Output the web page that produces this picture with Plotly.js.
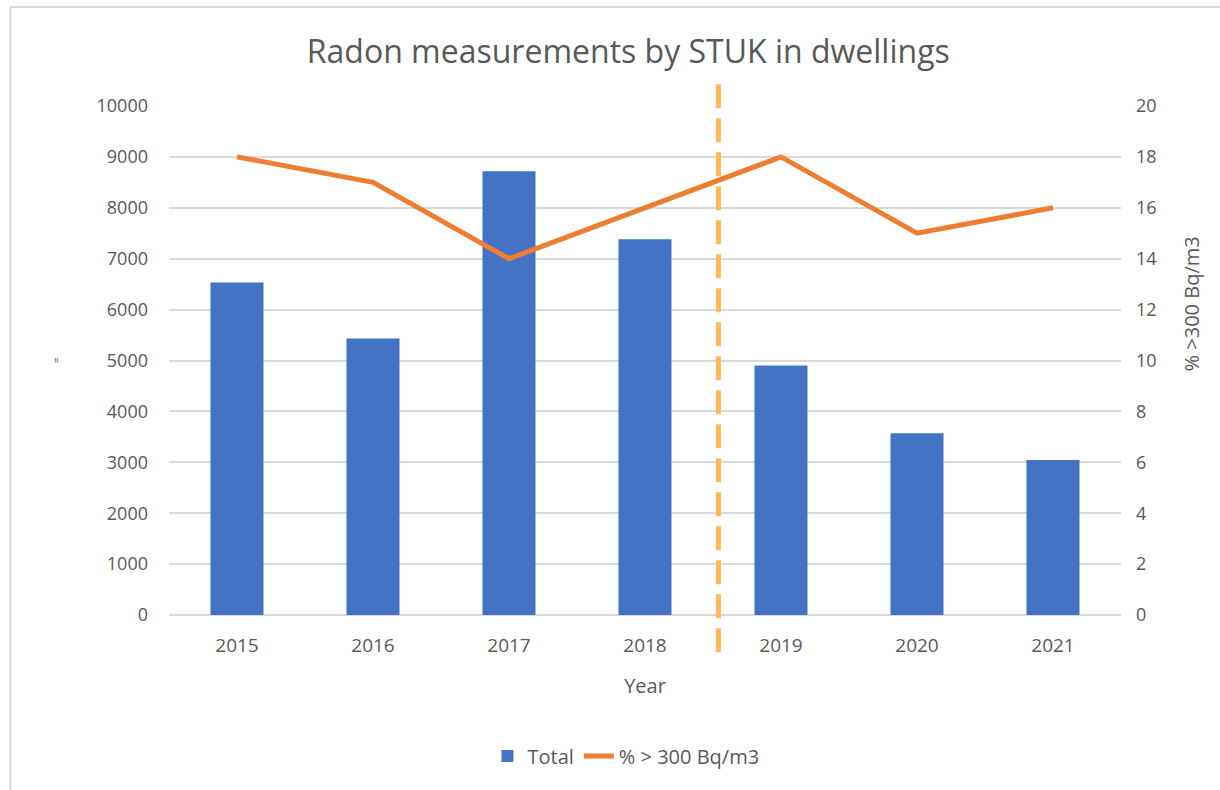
<!DOCTYPE html>
<html>
<head>
<meta charset="utf-8">
<script src="https://cdn.plot.ly/plotly-3.0.1.min.js"></script>
<style>html,body{margin:0;padding:0;background:#fff;}#chart{width:1220px;height:790px;}</style>
</head>
<body>
<div id="chart"></div>
<script>
const years = ['2015', '2016', '2017', '2018', '2019', '2020', '2021'];
const totals = [6530, 5430, 8720, 7380, 4900, 3570, 3045];
const percentOver300 = [18, 17, 14, 16, 18, 15, 16];
const leftTicks = [0, 1000, 2000, 3000, 4000, 5000, 6000, 7000, 8000, 9000, 10000];
const rightTicks = [0, 2, 4, 6, 8, 10, 12, 14, 16, 18, 20];
const dividerPosition = 3.54;

const fontFam = '"Open Sans", sans-serif';
const grey = '#595959';

const traces = [
  {
    type: 'bar', name: 'Total', x: years, y: totals,
    marker: {color: '#4472C4'}, yaxis: 'y'
  },
  {
    type: 'scatter', mode: 'lines', name: '% > 300 Bq/m3', x: years, y: percentOver300,
    line: {color: '#ED7D31', width: 5}, yaxis: 'y2'
  }
];

const layout = {
  width: 1220, height: 790,
  margin: {l: 169, r: 99, t: 106, b: 175},
  paper_bgcolor: '#fff', plot_bgcolor: '#fff',
  font: {family: fontFam, color: grey, size: 18},
  title: {text: 'Radon measurements by STUK in dwellings', x: 0.515, xanchor: 'center', y: 0.935, yanchor: 'middle',
          font: {size: 32, color: grey, family: fontFam}},
  bargap: 0.61,
  showlegend: true,
  legend: {orientation: 'h', x: 0.48, xanchor: 'center', y: -0.277, yanchor: 'middle',
           font: {size: 20, color: grey}, traceorder: 'normal'},
  xaxis: {
    type: 'category', tickvals: years, ticktext: years,
    showgrid: false, showline: false, zeroline: false, ticks: '',
    tickfont: {size: 19, color: grey}, ticklabelstandoff: 17,
    title: {text: 'Year', font: {size: 20, color: grey}, standoff: 21}
  },
  yaxis: {
    range: [0, 10000], tickvals: leftTicks, ticktext: leftTicks.map(String),
    showgrid: true, gridcolor: '#d9d9d9', gridwidth: 2,
    zeroline: true, zerolinecolor: '#d9d9d9', zerolinewidth: 2,
    ticks: '', tickfont: {size: 18, color: grey}, ticklabelstandoff: 20,
    title: {text: '=', font: {size: 10, color: grey}, standoff: 34}
  },
  yaxis2: {
    overlaying: 'y', side: 'right', range: [0, 20],
    tickvals: rightTicks, ticktext: rightTicks.map(String),
    showgrid: false, zeroline: false, ticks: '',
    tickfont: {size: 18, color: grey}, ticklabelstandoff: 14
  },
  annotations: [
    {text: '% >300 Bq/m3', xref: 'paper', yref: 'paper', x: 1.0745, y: 0.612, textangle: -90,
     showarrow: false, xanchor: 'center', yanchor: 'middle', font: {size: 20, color: grey, family: fontFam}}
  ],
  shapes: [
    {type: 'line', xref: 'x', yref: 'paper', x0: dividerPosition, x1: dividerPosition, y0: -0.073, y1: 1.056,
     line: {color: '#FFB95A', width: 5, dash: '24px,10px'}, layer: 'above'},
    {type: 'rect', xref: 'paper', yref: 'paper', x0: -0.1665, x1: 1.2, y0: -0.4, y1: 1.1945,
     line: {color: '#d9d9d9', width: 2}, fillcolor: 'rgba(0,0,0,0)', layer: 'below'}
  ]
};

Plotly.newPlot('chart', traces, layout, {displayModeBar: false, staticPlot: true});
</script>
</body>
</html>
